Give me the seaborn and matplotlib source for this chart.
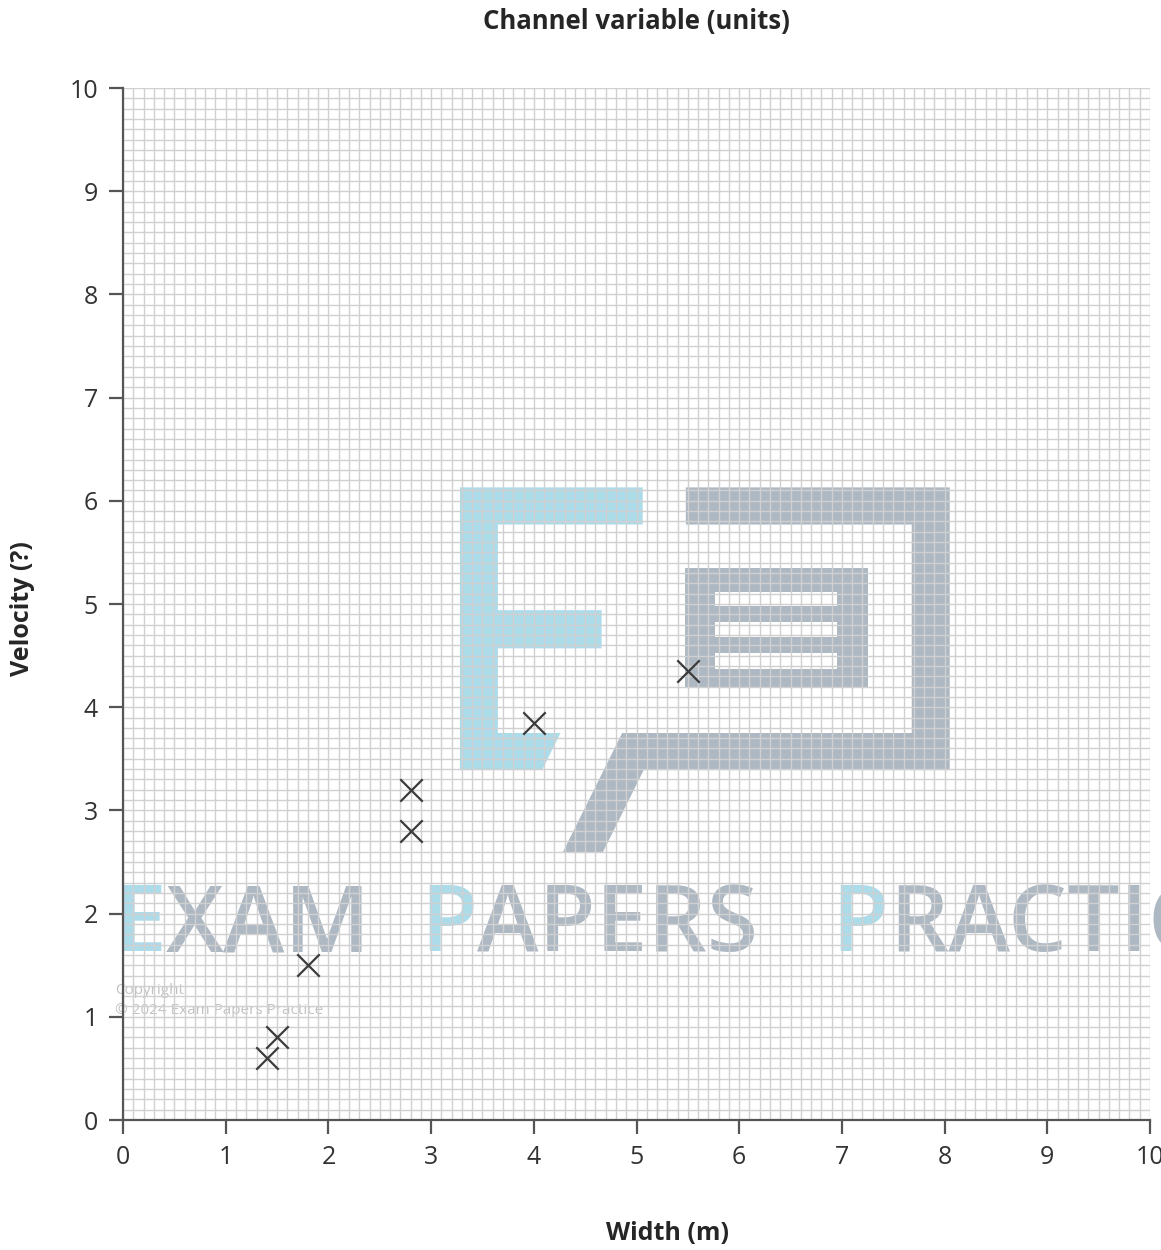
import numpy as np
import matplotlib.pyplot as plt
import matplotlib.patches as mpatches
import pandas as pd
import seaborn as sns

# Data
width_m = [1.4, 1.5, 1.8, 2.8, 2.8, 4.0, 5.5]
velocity = [0.6, 0.8, 1.5, 2.8, 3.2, 3.85, 4.35]
ticks = list(range(0, 11))

df = pd.DataFrame({"Width (m)": width_m, "Velocity (?)": velocity})

sns.set_theme(style="white")
plt.rcParams["font.family"] = ["Open Sans", "DejaVu Sans"]

fig = plt.figure(figsize=(11.61, 12.5), dpi=100)
ax = fig.add_axes([0.106, 0.104, 0.8845, 0.8256])

# watermark logo (decoration, sits behind the grid)
blue = "#acdbea"
grey = "#aeb8c3"
e_shape = [(3.28, 6.13), (5.06, 6.13), (5.06, 5.77), (3.65, 5.77), (3.65, 4.94),
           (4.66, 4.94), (4.66, 4.57), (3.65, 4.57), (3.65, 3.75), (4.26, 3.75),
           (4.08, 3.39), (3.28, 3.39)]
bubble = [(5.48, 6.13), (8.05, 6.13), (8.05, 3.39), (5.07, 3.39), (4.67, 2.59),
          (4.28, 2.59), (4.86, 3.75), (7.68, 3.75), (7.68, 5.77), (5.48, 5.77)]
ax.add_patch(mpatches.Polygon(e_shape, closed=True, fc=blue, ec="none", zorder=0.2))
ax.add_patch(mpatches.Polygon(bubble, closed=True, fc=grey, ec="none", zorder=0.2))
# inner box with three white bars
box_parts = [(5.47, 7.25, 5.12, 5.35), (5.47, 7.25, 4.83, 4.98), (5.47, 7.25, 4.53, 4.68),
             (5.47, 7.25, 4.19, 4.37), (5.47, 5.76, 4.37, 5.12), (6.95, 7.25, 4.37, 5.12)]
for (x0, x1, y0, y1) in box_parts:
    ax.add_patch(mpatches.Rectangle((x0, y0), x1 - x0, y1 - y0, fc=grey, ec="none", zorder=0.2))

# watermark text: each word starts at its own spot, first letter coloured apart
words = [(-0.09, "E", blue, "XAM"), (2.89, "P", blue, "APERS"), (6.90, "P", blue, "RACTICE")]
for x0, first, col, rest in words:
    t = ax.text(x0, 1.87, first, color=col, fontsize=67, fontweight="semibold",
                va="center", ha="left", zorder=0.2, clip_on=False)
    ax.annotate(rest, xy=(1, 0), xycoords=t, va="bottom", ha="left",
                color=grey, fontsize=67, fontweight="semibold", zorder=0.2)
ax.text(-0.08, 1.22, "Copyright", fontsize=11, color="#c2c2c2", zorder=0.2)
ax.text(-0.08, 1.03, "© 2024 Exam Papers Practice", fontsize=11, color="#c2c2c2", zorder=0.2)

sns.scatterplot(data=df, x="Width (m)", y="Velocity (?)", marker="x", s=260,
                color="#3c3c3c", linewidth=1.6, ax=ax, zorder=3)

ax.set_xlim(0, 10)
ax.set_ylim(0, 10)
ax.set_xticks(ticks)
ax.set_yticks(ticks)
ax.set_xticks(np.arange(0, 10.01, 0.1), minor=True)
ax.set_yticks(np.arange(0, 10.01, 0.1), minor=True)
ax.set_axisbelow(True)
ax.grid(which="both", color="#d0d0d0", linewidth=1.0)

for side in ["top", "right"]:
    ax.spines[side].set_visible(False)
for side in ["left", "bottom"]:
    ax.spines[side].set_color("#555555")
    ax.spines[side].set_linewidth(1.6)

ax.tick_params(axis="both", which="major", direction="out", length=10, width=1.6,
               color="#555555", labelsize=18, labelcolor="#333333", pad=8,
               left=True, bottom=True)
ax.tick_params(axis="both", which="minor", length=0)

ax.set_xlabel("Width (m)", fontsize=18, fontweight="bold")
ax.set_ylabel("Velocity (?)", fontsize=18, fontweight="bold")
ax.xaxis.set_label_coords(0.53, -0.1095)
ax.yaxis.set_label_coords(-0.098, 0.496)
ax.xaxis.label.set_va("center")
ax.yaxis.label.set_va("center")
ax.set_title("Channel variable (units)", fontsize=18.5, fontweight="bold",
             y=1.064, va="center", pad=0)

fig.savefig("out.png", dpi=100)
